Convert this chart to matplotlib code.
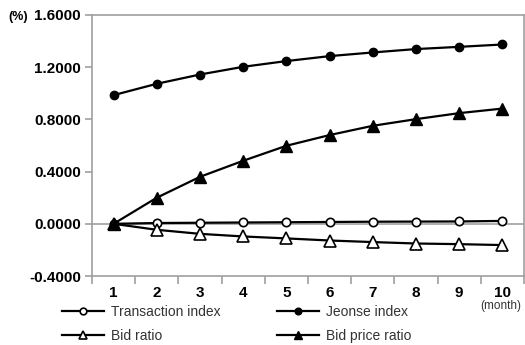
import matplotlib
matplotlib.use("Agg")
import matplotlib.pyplot as plt

months = [1, 2, 3, 4, 5, 6, 7, 8, 9, 10]
transaction_index = [0.000, 0.006, 0.008, 0.010, 0.012, 0.014, 0.016, 0.017, 0.018, 0.022]
jeonse_index = [0.986, 1.073, 1.144, 1.203, 1.247, 1.285, 1.313, 1.339, 1.356, 1.374]
bid_ratio = [0.000, -0.046, -0.077, -0.097, -0.112, -0.128, -0.140, -0.151, -0.156, -0.163]
bid_price_ratio = [0.000, 0.200, 0.360, 0.483, 0.598, 0.680, 0.751, 0.802, 0.848, 0.883]
yticks = [-0.4, 0.0, 0.4, 0.8, 1.2, 1.6]

plt.rcParams['font.family'] = ['Liberation Sans', 'DejaVu Sans']

fig = plt.figure(figsize=(5.25, 3.45), dpi=100)
ax = fig.add_axes([92/525, 1 - 276/345, (524-92)/525, (276-15)/345])

grey = '#a0a0a0'
ax.axhline(0, color=grey, lw=1.2, zorder=1)

lw = 1.6
l1, = ax.plot(months, transaction_index, color='black', lw=lw, marker='o', ms=6,
              mfc='white', mec='black', mew=1.2, label='Transaction index', zorder=3)
l2, = ax.plot(months, jeonse_index, color='black', lw=lw, marker='o', ms=6,
              mfc='black', mec='black', label='Jeonse index', zorder=3)
l3, = ax.plot(months, bid_ratio, color='black', lw=lw, marker='^', ms=8,
              mfc='white', mec='black', mew=1.2, label='Bid ratio', zorder=3)
l4, = ax.plot(months, bid_price_ratio, color='black', lw=lw, marker='^', ms=8,
              mfc='black', mec='black', label='Bid price ratio', zorder=4)

ax.set_xlim(0.5, 10.5)
ax.set_ylim(-0.4, 1.6)
ax.set_yticks(yticks)
ax.set_yticklabels([f"{v:.4f}" for v in yticks], fontsize=11, fontweight='bold')
ax.set_xticks(months)
ax.set_xticklabels([str(m) for m in months], fontsize=11, fontweight='bold')
ax.set_xticks([m + 0.5 for m in [0] + months], minor=True)
ax.tick_params(axis='x', which='major', length=0, pad=7)
ax.tick_params(axis='x', which='minor', length=6, color=grey, width=1.2, direction='out')
ax.tick_params(axis='y', length=5, color=grey, width=1.2, pad=3)

for s in ax.spines.values():
    s.set_color(grey)
    s.set_linewidth(1.2)

fig.text(8/525, 1 - 17/345, '(%)', fontsize=9, fontweight='bold', va='center', ha='left')
fig.text(501/525, 1 - 306/345, '(month)', fontsize=8.5, color='#333333', va='center', ha='center')

leg = fig.legend(handles=[l1, l3, l2, l4], ncol=2, loc='upper left',
                 bbox_to_anchor=(62/525, 1 - 305/345), frameon=False,
                 fontsize=10, handlelength=3.0, handletextpad=0.5, markerscale=0.8,
                 columnspacing=4.1, labelspacing=0.7, borderaxespad=0, borderpad=0)
for t in leg.get_texts():
    t.set_color('#333333')

fig.savefig('out.png', dpi=100)
